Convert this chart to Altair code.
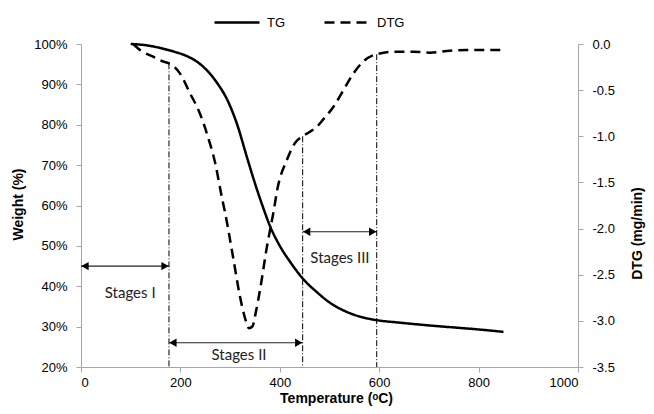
import altair as alt
import pandas as pd

# ---- data ----
tg_temp = [100, 130, 160, 190, 213, 240, 273, 295, 313, 335, 350, 365, 380, 400, 421,
           447, 475, 501, 525, 548, 570, 595, 640, 700, 760, 800, 850]
tg_weight = [100, 99.7, 99.0, 98.0, 97.0, 95.0, 90.5, 86.0, 80.5, 71.5, 65.5, 60.0, 55.0,
             50.0, 46.0, 41.8, 38.5, 35.9, 34.2, 33.0, 32.2, 31.6, 31.0, 30.3, 29.7, 29.3, 28.7]

dtg_temp = [105, 120, 145, 165, 177, 199, 219, 239, 255, 270, 283, 290, 306, 320, 330,
            338, 345, 352, 360, 374, 387, 396, 414, 431, 446, 461, 474, 487, 508, 528,
            548, 568, 595, 635, 668, 702, 742, 776, 810, 850]
dtg_rate = [0.0, -0.07, -0.137, -0.19, -0.21, -0.318, -0.53, -0.75, -1.0, -1.29, -1.65,
            -1.83, -2.31, -2.74, -2.97, -3.08, -3.06, -2.9, -2.67, -2.2, -1.83, -1.55,
            -1.26, -1.07, -1.0, -0.95, -0.9, -0.82, -0.68, -0.5, -0.32, -0.19, -0.11,
            -0.083, -0.083, -0.094, -0.072, -0.065, -0.065, -0.065]

# stage boundaries (dash-dot verticals) and the DTG value where they start
bound_temp = [177, 446, 595]
bound_top = [-0.21, -1.0, -0.11]

# stage arrows and labels (left axis units)
stage_names = ["Stages I", "Stages II", "Stages III"]
arrow_from = [0, 177, 446]
arrow_to = [177, 446, 595]
arrow_level = [45.0, 26.0, 53.5]
label_temp = [99, 318, 521]
label_level = [38.3, 23.0, 47.0]

x_ticks = [0, 200, 400, 600, 800, 1000]
left_ticks = [20, 30, 40, 50, 60, 70, 80, 90, 100]
right_ticks = [-3.5, -3.0, -2.5, -2.0, -1.5, -1.0, -0.5, 0.0]

# ---- tables ----
tg_df = pd.DataFrame({"temp": tg_temp, "val": tg_weight, "series": "TG"})
dtg_df = pd.DataFrame({"temp": dtg_temp, "val": dtg_rate, "series": "DTG"})
bound_df = pd.DataFrame({"temp": bound_temp, "top": bound_top, "bottom": -3.5})
arrow_df = pd.DataFrame({"x1": arrow_from, "x2": arrow_to, "y": arrow_level})
label_df = pd.DataFrame({"temp": label_temp, "y": label_level, "name": stage_names})

FONT = "Liberation Sans"
xscale = alt.Scale(domain=[0, 1000], nice=False)
x_axis = alt.Axis(values=x_ticks, format="d", title="Temperature (ᵒC)",
                  titleX=255, titleY=31, titleBaseline="middle", labelPadding=4)

dash_scale = alt.Scale(domain=["TG", "DTG"], range=[[1, 0], [10, 6]])
dash_legend = alt.Legend(
    title=None, orient="none", direction="horizontal", columns=2,
    legendX=132, legendY=-45.5, symbolType="stroke", symbolSize=2025,
    symbolStrokeWidth=2.5, symbolStrokeColor="black", columnPadding=33,
    labelFont=FONT, labelFontSize=13, labelColor="black", labelOffset=6,
)

left_scale = alt.Scale(domain=[20, 100], nice=False)
right_scale = alt.Scale(domain=[-3.5, 0], nice=False)
left_axis = alt.Axis(orient="left", values=left_ticks, labelExpr="datum.value + '%'",
                     title="Weight (%)", titleX=-63, titleY=160, titleAngle=270,
                     titleAlign="center", titleBaseline="middle")
right_axis = alt.Axis(orient="right", values=right_ticks,
                      labelExpr="replace(format(datum.value, '.1f'), '−', '-')",
                      title="DTG (mg/min)", titleAngle=270, titleX=59, titleY=189,
                      titleAlign="center", titleBaseline="middle")

tg_line = alt.Chart(tg_df).mark_line(color="black", strokeWidth=2.5, interpolate="monotone").encode(
    x=alt.X("temp:Q", scale=xscale, axis=x_axis),
    y=alt.Y("val:Q", scale=left_scale, axis=left_axis),
    strokeDash=alt.StrokeDash("series:N", scale=dash_scale, legend=dash_legend),
)

arrow_lines = alt.Chart(arrow_df).mark_rule(color="#222222", strokeWidth=1.2).encode(
    x=alt.X("x1:Q", scale=xscale, axis=x_axis),
    x2="x2:Q",
    y=alt.Y("y:Q", scale=left_scale, axis=left_axis),
)
head_left = alt.Chart(arrow_df).mark_point(shape="triangle-left", filled=True, color="black",
                                           size=70, opacity=1, xOffset=4).encode(
    x=alt.X("x1:Q", scale=xscale, axis=x_axis),
    y=alt.Y("y:Q", scale=left_scale, axis=left_axis),
)
head_right = alt.Chart(arrow_df).mark_point(shape="triangle-right", filled=True, color="black",
                                            size=70, opacity=1, xOffset=-4).encode(
    x=alt.X("x2:Q", scale=xscale, axis=x_axis),
    y=alt.Y("y:Q", scale=left_scale, axis=left_axis),
)
labels = alt.Chart(label_df).mark_text(font="Lato", fontSize=15, color="#222222").encode(
    x=alt.X("temp:Q", scale=xscale, axis=x_axis),
    y=alt.Y("y:Q", scale=left_scale, axis=left_axis),
    text="name:N",
)

left_layer = alt.layer(tg_line, arrow_lines, head_left, head_right, labels)

dtg_line = alt.Chart(dtg_df).mark_line(color="black", strokeWidth=2.5, interpolate="monotone").encode(
    x=alt.X("temp:Q", scale=xscale, axis=x_axis),
    y=alt.Y("val:Q", scale=right_scale, axis=right_axis),
    strokeDash=alt.StrokeDash("series:N", scale=dash_scale, legend=dash_legend),
)
bounds = alt.Chart(bound_df).mark_rule(color="black", strokeWidth=1, strokeDash=[6, 2, 1, 2]).encode(
    x=alt.X("temp:Q", scale=xscale, axis=x_axis),
    y=alt.Y("top:Q", scale=right_scale, axis=right_axis),
    y2="bottom:Q",
)

right_layer = alt.layer(dtg_line, bounds)

chart = alt.layer(left_layer, right_layer).resolve_scale(
    y="independent", strokeDash="shared"
).properties(
    width=497, height=323,
    autosize=alt.AutoSizeParams(type="none"),
    padding={"left": 73, "top": 36, "right": 68, "bottom": 39},
).configure_view(stroke=None).configure_axis(
    grid=False, domainColor="#a6a6a6", tickColor="#a6a6a6", tickSize=5,
    labelFont=FONT, labelFontSize=13, labelColor="black", labelPadding=9,
    titleFont=FONT, titleFontSize=14, titleFontWeight="bold", titleColor="black",
)

chart.save("out.html", embed_options={"renderer": "svg", "actions": False})
